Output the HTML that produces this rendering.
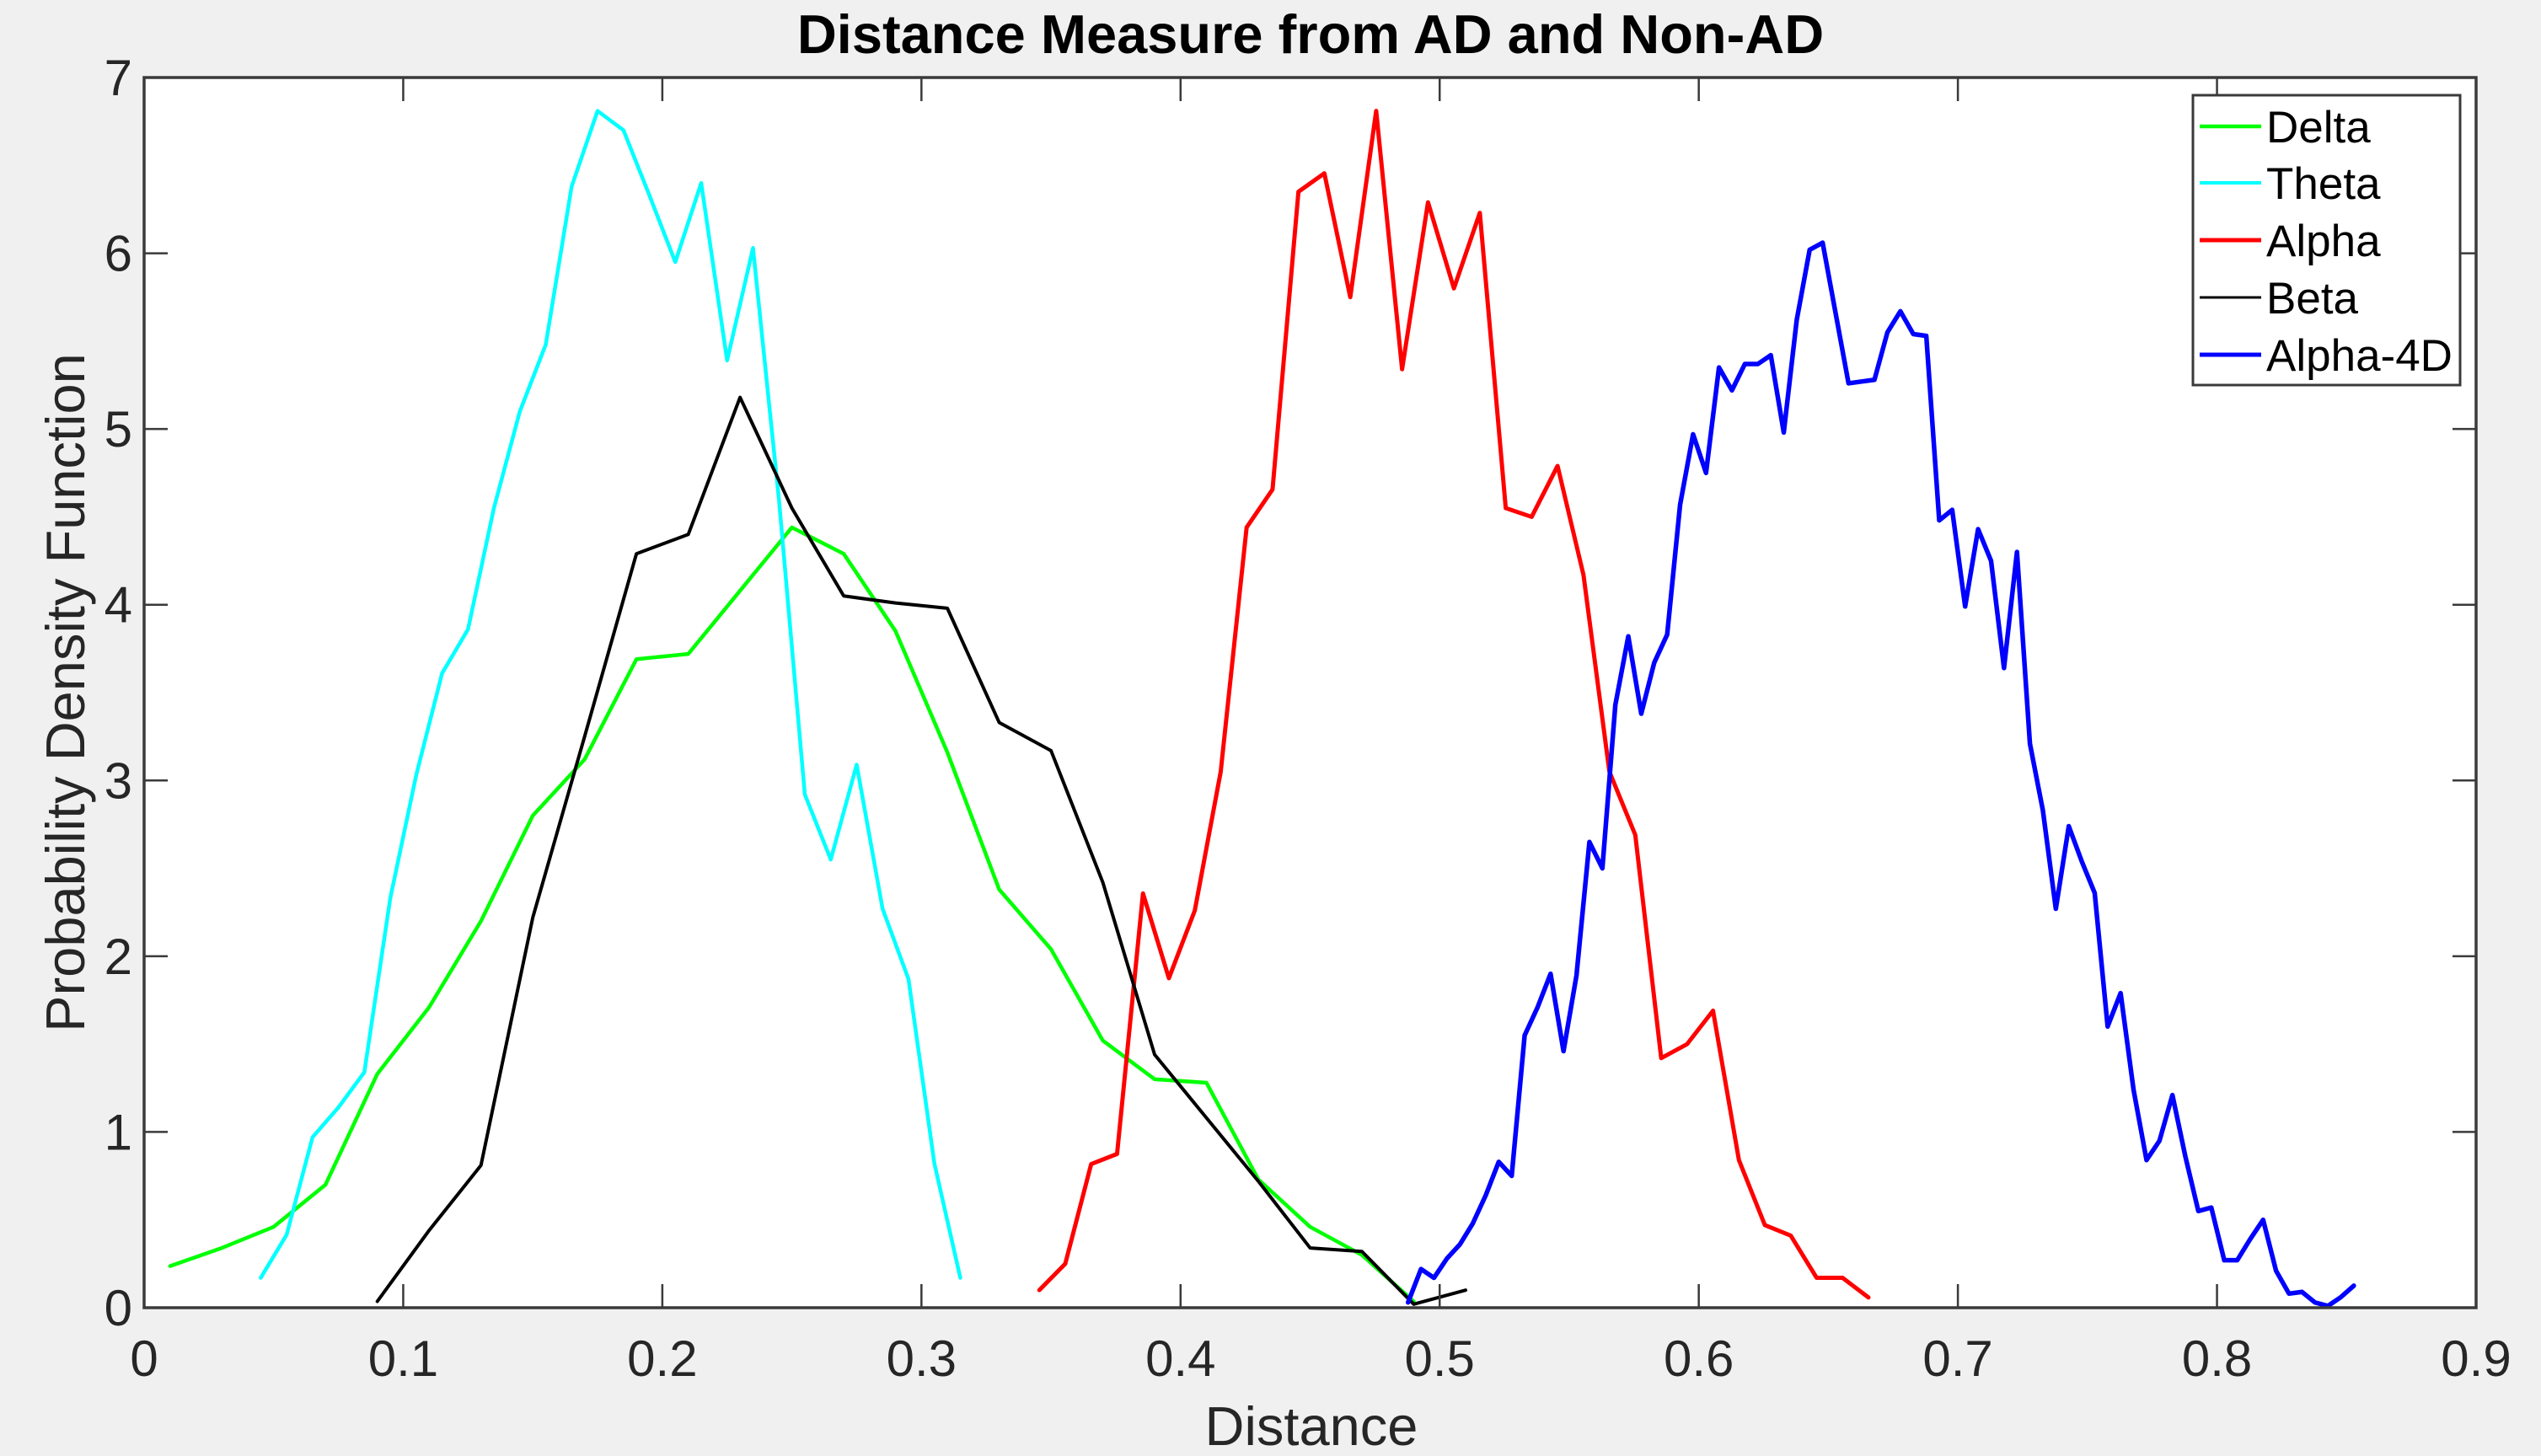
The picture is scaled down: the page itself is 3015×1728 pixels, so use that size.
<!DOCTYPE html>
<html>
<head>
<meta charset="utf-8">
<style>
  html, body { margin: 0; padding: 0; background: #f0f0f0; }
  svg { display: block; }
  text { font-family: "Liberation Sans", Arial, sans-serif; }
</style>
</head>
<body>
<svg width="3015" height="1728" viewBox="0 0 3015 1728" xmlns="http://www.w3.org/2000/svg">
  <rect width="3015" height="1728" fill="#f0f0f0"/>
  <rect x="171" y="92" width="2767" height="1460" fill="#ffffff"/>

  <!-- Data series in data coordinates -->
  <g transform="translate(171 1552) scale(3074.44 -208.571)" fill="none" stroke-linejoin="round" stroke-linecap="round">
    <!-- Delta -->
    <polyline vector-effect="non-scaling-stroke" stroke="#00ff00" stroke-width="4.5" points="
      0.01,0.237 0.03,0.34 0.05,0.46 0.07,0.70 0.09,1.33 0.11,1.71 0.13,2.20 0.15,2.80 0.17,3.12
      0.19,3.69 0.21,3.72 0.23,4.08 0.25,4.44 0.27,4.29 0.29,3.85 0.31,3.16 0.33,2.38 0.35,2.04
      0.37,1.52 0.39,1.30 0.41,1.28 0.43,0.73 0.45,0.46 0.47,0.30 0.49,0.035"/>
    <!-- Theta -->
    <polyline vector-effect="non-scaling-stroke" stroke="#00ffff" stroke-width="4.5" points="
      0.045,0.17 0.055,0.415 0.065,0.97 0.075,1.14 0.085,1.34 0.095,2.33 0.105,3.03 0.115,3.61
      0.125,3.86 0.135,4.55 0.145,5.10 0.155,5.48 0.165,6.38 0.175,6.81 0.185,6.70 0.195,6.33
      0.205,5.95 0.215,6.40 0.225,5.39 0.235,6.03 0.245,4.6 0.255,2.92 0.265,2.55 0.275,3.09
      0.285,2.27 0.295,1.87 0.305,0.82 0.315,0.17"/>
    <!-- Alpha -->
    <polyline vector-effect="non-scaling-stroke" stroke="#ff0000" stroke-width="5" points="
      0.3455,0.10 0.3555,0.25 0.3655,0.817 0.3755,0.875 0.3855,2.357 0.3955,1.875 0.4055,2.26
      0.4155,3.05 0.4255,4.44 0.4355,4.656 0.4455,6.35 0.4555,6.455 0.4655,5.75 0.4755,6.81
      0.4855,5.34 0.4955,6.29 0.5055,5.80 0.5155,6.23 0.5255,4.55 0.5355,4.50 0.5455,4.79
      0.5555,4.17 0.5655,3.05 0.5755,2.69 0.5855,1.42 0.5955,1.50 0.6055,1.69 0.6155,0.84
      0.6255,0.47 0.6355,0.41 0.6455,0.17 0.6555,0.17 0.6655,0.058"/>
    <!-- Beta -->
    <polyline vector-effect="non-scaling-stroke" stroke="#000000" stroke-width="4" points="
      0.09,0.036 0.11,0.44 0.13,0.81 0.15,2.22 0.17,3.25 0.19,4.29 0.21,4.40 0.23,5.18 0.25,4.55
      0.27,4.05 0.29,4.01 0.31,3.98 0.33,3.33 0.35,3.17 0.37,2.42 0.39,1.44 0.41,1.08 0.43,0.72
      0.45,0.34 0.47,0.32 0.49,0.02 0.51,0.10"/>
    <!-- Alpha-4D -->
    <polyline vector-effect="non-scaling-stroke" stroke="#0000ff" stroke-width="5.5" points="
      0.4878,0.03 0.4928,0.22 0.4978,0.17 0.5028,0.28 0.5078,0.36 0.5128,0.48 0.5178,0.64
      0.5228,0.83 0.5278,0.75 0.5328,1.55 0.5378,1.71 0.5428,1.90 0.5478,1.46 0.5528,1.89
      0.5578,2.65 0.5628,2.50 0.5678,3.43 0.5728,3.82 0.5778,3.38 0.5828,3.67 0.5878,3.83
      0.5928,4.57 0.5978,4.97 0.6028,4.75 0.6078,5.35 0.6128,5.22 0.6178,5.37 0.6228,5.37
      0.6278,5.42 0.6328,4.98 0.6378,5.62 0.6428,6.02 0.6478,6.06 0.6528,5.66 0.6578,5.26
      0.6628,5.27 0.6678,5.28 0.6728,5.55 0.6778,5.67 0.6828,5.54 0.6878,5.53 0.6928,4.48
      0.6978,4.54 0.7028,3.99 0.7078,4.43 0.7128,4.25 0.7178,3.64 0.7228,4.30 0.7278,3.21
      0.7328,2.83 0.7378,2.27 0.7428,2.74 0.7478,2.54 0.7528,2.36 0.7578,1.60 0.7628,1.79
      0.7678,1.24 0.7728,0.84 0.7778,0.95 0.7828,1.21 0.7878,0.86 0.7928,0.55 0.7978,0.57
      0.8028,0.27 0.8078,0.27 0.8128,0.39 0.8178,0.50 0.8228,0.21 0.8278,0.08 0.8328,0.09
      0.8378,0.03 0.8428,0.01 0.8478,0.06 0.8528,0.125"/>
  </g>

  <!-- Ticks -->
  <g stroke="#3a3a3a" stroke-width="2.5" fill="none">
    <path d="M478.44 1552v-28M785.89 1552v-28M1093.33 1552v-28M1400.78 1552v-28M1708.22 1552v-28M2015.67 1552v-28M2323.11 1552v-28M2630.56 1552v-28"/>
    <path d="M478.44 92v28M785.89 92v28M1093.33 92v28M1400.78 92v28M1708.22 92v28M2015.67 92v28M2323.11 92v28M2630.56 92v28"/>
    <path d="M171 1343.43h28M171 1134.86h28M171 926.29h28M171 717.71h28M171 509.14h28M171 300.57h28"/>
    <path d="M2938 1343.43h-28M2938 1134.86h-28M2938 926.29h-28M2938 717.71h-28M2938 509.14h-28M2938 300.57h-28"/>
  </g>
  <!-- Axes box -->
  <rect x="171" y="92" width="2767" height="1460" fill="none" stroke="#3a3a3a" stroke-width="3.5"/>

  <!-- X tick labels -->
  <g font-size="60" fill="#262626" text-anchor="middle">
    <text x="171" y="1633">0</text>
    <text x="478.44" y="1633">0.1</text>
    <text x="785.89" y="1633">0.2</text>
    <text x="1093.33" y="1633">0.3</text>
    <text x="1400.78" y="1633">0.4</text>
    <text x="1708.22" y="1633">0.5</text>
    <text x="2015.67" y="1633">0.6</text>
    <text x="2323.11" y="1633">0.7</text>
    <text x="2630.56" y="1633">0.8</text>
    <text x="2938" y="1633">0.9</text>
  </g>
  <!-- Y tick labels -->
  <g font-size="60" fill="#262626" text-anchor="end">
    <text x="157" y="1573">0</text>
    <text x="157" y="1364.43">1</text>
    <text x="157" y="1155.86">2</text>
    <text x="157" y="947.29">3</text>
    <text x="157" y="738.71">4</text>
    <text x="157" y="530.14">5</text>
    <text x="157" y="321.57">6</text>
    <text x="157" y="113">7</text>
  </g>

  <!-- Axis labels -->
  <text x="1556" y="1715" font-size="65" fill="#262626" text-anchor="middle">Distance</text>
  <text transform="translate(100 822) rotate(-90)" font-size="65" fill="#262626" text-anchor="middle">Probability Density Function</text>

  <!-- Title -->
  <text x="1555" y="63" font-size="65" font-weight="bold" fill="#000" text-anchor="middle">Distance Measure from AD and Non-AD</text>

  <!-- Legend -->
  <rect x="2602" y="113" width="317" height="344" fill="#ffffff" stroke="#3a3a3a" stroke-width="3"/>
  <g stroke-linecap="butt">
    <line x1="2610" y1="150" x2="2683" y2="150" stroke="#00ff00" stroke-width="4.5"/>
    <line x1="2610" y1="217" x2="2683" y2="217" stroke="#00ffff" stroke-width="4"/>
    <line x1="2610" y1="285" x2="2683" y2="285" stroke="#ff0000" stroke-width="5"/>
    <line x1="2610" y1="353" x2="2683" y2="353" stroke="#000000" stroke-width="3"/>
    <line x1="2610" y1="421" x2="2683" y2="421" stroke="#0000ff" stroke-width="5"/>
  </g>
  <g font-size="53" fill="#000">
    <text x="2689" y="169">Delta</text>
    <text x="2689" y="236">Theta</text>
    <text x="2689" y="304">Alpha</text>
    <text x="2689" y="372">Beta</text>
    <text x="2689" y="440">Alpha-4D</text>
  </g>
</svg>
</body>
</html>
